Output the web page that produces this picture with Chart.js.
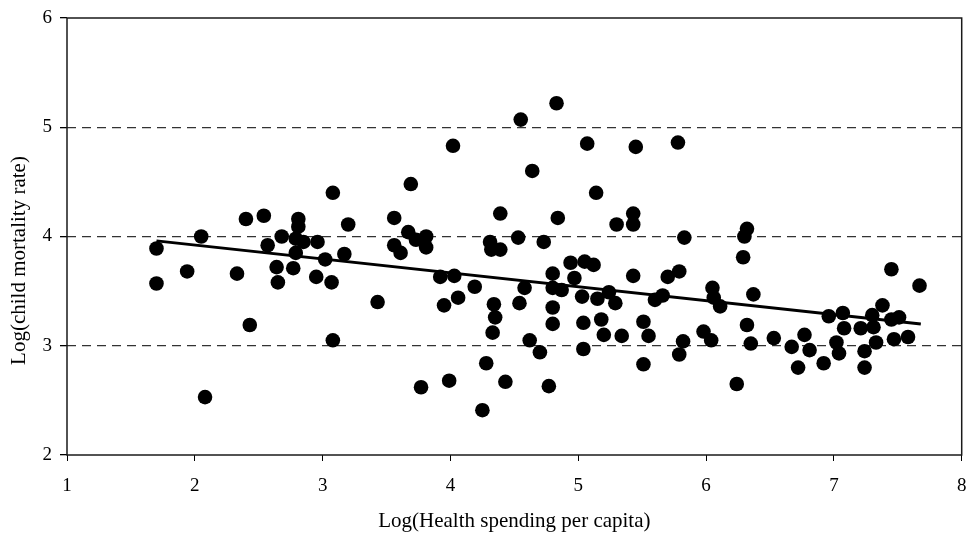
<!DOCTYPE html>
<html>
<head>
<meta charset="utf-8">
<script src="https://cdn.jsdelivr.net/npm/chart.js@4"></script>
<style>
  html, body { margin: 0; padding: 0; background: #fff; }
</style>
</head>
<body>
<canvas id="myChart" width="969" height="535"></canvas>
<script>
// log health spending per capita (x) and log child mortality rate (y)
const spendingLog = [
    1.70, 1.70, 1.94, 2.05, 2.08, 2.33, 2.43, 2.40, 2.54, 2.57,
    2.68, 2.79, 2.85, 2.81, 2.81, 2.96, 2.64, 2.77, 2.79, 2.65,
    2.95, 3.07, 3.02, 3.17, 3.08, 3.20, 3.08, 3.43,
    3.56, 3.69, 3.67, 3.73, 3.81, 3.81, 3.56, 3.61, 4.02, 4.55,
    4.83, 4.64, 5.07, 5.45, 5.78, 5.14, 4.39, 4.84, 5.30, 5.43,
    5.43, 4.31, 4.32, 4.39, 4.53, 4.73, 5.83, 4.94, 5.05, 5.12,
    4.80, 4.97, 5.43, 5.70, 5.79, 3.92, 4.03, 4.19, 4.58, 4.80,
    4.87, 3.95, 4.06, 4.34, 4.54, 4.80, 5.03, 5.15, 5.24, 5.29,
    5.60, 5.66, 4.35, 4.33, 4.80, 5.04, 5.18, 5.20, 5.34, 5.51,
    5.55, 4.62, 4.70, 5.04, 4.28, 3.99, 3.77, 4.43, 4.77, 4.25,
    5.51, 5.82, 5.79,
    6.32, 6.30, 6.29, 6.05, 6.06, 6.11, 6.37, 6.32, 5.98, 6.04,
    6.35, 6.53, 6.67, 6.77, 6.81, 6.72, 6.92, 7.02, 7.04, 6.96,
    7.07, 7.08, 7.21, 7.24, 7.24, 7.33, 7.30, 7.31, 7.38, 7.45,
    7.51, 7.47, 7.58, 7.45, 7.67, 6.24
];
const mortalityLog = [
    3.89, 3.57, 3.68, 4.00, 2.53, 3.66, 3.19, 4.16, 4.19, 3.92,
    4.00, 3.98, 3.95, 4.09, 4.16, 3.95, 3.72, 3.71, 3.85, 3.58,
    3.63, 3.58, 3.79, 3.84, 4.40, 4.11, 3.05, 3.40,
    4.17, 4.48, 4.04, 3.97, 4.00, 3.90, 3.92, 3.85, 4.83, 5.07,
    5.22, 4.60, 4.85, 4.82, 4.86, 4.40, 4.21, 4.17, 4.11, 4.21,
    4.11, 3.95, 3.88, 3.88, 3.99, 3.95, 3.99, 3.76, 3.77, 3.74,
    3.66, 3.62, 3.64, 3.63, 3.68, 3.63, 3.64, 3.54, 3.53, 3.53,
    3.51, 3.37, 3.44, 3.38, 3.39, 3.35, 3.45, 3.43, 3.49, 3.39,
    3.42, 3.46, 3.26, 3.12, 3.20, 3.21, 3.24, 3.10, 3.09, 3.22,
    3.09, 3.05, 2.94, 2.97, 2.84, 2.68, 2.62, 2.67, 2.63, 2.41,
    2.83, 3.04, 2.92,
    4.07, 4.00, 3.81, 3.53, 3.44, 3.36, 3.47, 3.19, 3.13, 3.05,
    3.02, 3.07, 2.99, 3.10, 2.96, 2.80, 2.84, 3.03, 2.93, 3.27,
    3.30, 3.16, 3.16, 2.95, 2.80, 3.03, 3.28, 3.17, 3.37, 3.24,
    3.26, 3.06, 3.08, 3.70, 3.55, 2.65
];
// fitted line end points
const trendX = [1.70, 7.68];
const trendY = [3.96, 3.20];

const xTicks = [1, 2, 3, 4, 5, 6, 7, 8];
const yTicks = [2, 3, 4, 5, 6];

const xTitle = 'Log(Health spending per capita)';
const yTitle = 'Log(child mortality rate)';

const serif = '"Liberation Serif", "Times New Roman", serif';

const points = spendingLog.map((x, i) => ({ x: x, y: mortalityLog[i] }));
const trend = trendX.map((x, i) => ({ x: x, y: trendY[i] }));

// box round the plot area, plus the y title (sits a bit below the middle in the original)
const plotBox = {
    id: 'plotBox',
    afterDraw(chart) {
        const { ctx, chartArea: a } = chart;
        ctx.save();
        ctx.strokeStyle = '#1a1a1a';
        ctx.lineWidth = 1.5;
        ctx.strokeRect(a.left, a.top, a.right - a.left, a.bottom - a.top);
        ctx.translate(19, (a.top + a.bottom) / 2 + 24);
        ctx.rotate(-Math.PI / 2);
        ctx.fillStyle = '#000';
        ctx.font = '21px ' + serif;
        ctx.textAlign = 'center';
        ctx.textBaseline = 'middle';
        ctx.fillText(yTitle, 0, 0);
        ctx.restore();
    }
};

const config = {
    type: 'scatter',
    data: {
        datasets: [{
            data: points,
            pointRadius: 7.3,
            pointHoverRadius: 7.3,
            backgroundColor: '#000',
            borderWidth: 0
        }, {
            type: 'line',
            data: trend,
            borderColor: '#000',
            borderWidth: 3,
            pointRadius: 0,
            fill: false
        }]
    },
    options: {
        responsive: false,
        animation: false,
        layout: {
            padding: { top: 18, right: 6, left: 0, bottom: 0 }
        },
        scales: {
            x: {
                type: 'linear',
                min: 1,
                max: 8,
                afterBuildTicks: (s) => { s.ticks = xTicks.map(v => ({ value: v })); },
                afterFit: (s) => { s.height = 80; s.paddingLeft = 0; s.paddingRight = 0; },
                ticks: {
                    color: '#000',
                    font: { family: serif, size: 19 },
                    padding: 14
                },
                grid: {
                    drawOnChartArea: false,
                    tickLength: 6,
                    color: '#000'
                },
                border: { display: false },
                title: {
                    display: true,
                    text: xTitle,
                    color: '#000',
                    font: { family: serif, size: 21 },
                    padding: { top: 0, bottom: 1 }
                }
            },
            y: {
                min: 2,
                max: 6,
                afterBuildTicks: (s) => { s.ticks = yTicks.map(v => ({ value: v })); },
                afterFit: (s) => { s.width = 67; s.paddingTop = 0; s.paddingBottom = 0; },
                ticks: {
                    color: '#000',
                    font: { family: serif, size: 19 },
                    padding: 8
                },
                grid: {
                    color: (c) => (c.tick && (c.tick.value === 2 || c.tick.value === 6)) ? 'rgba(0,0,0,0)' : '#333',
                    lineWidth: 1.3,
                    tickColor: '#000',
                    tickLength: 7
                },
                border: { display: false, dash: [9, 6] },
                title: { display: false }
            }
        },
        plugins: {
            legend: { display: false },
            tooltip: { enabled: false }
        }
    },
    plugins: [plotBox]
};

var myChart = new Chart(document.getElementById('myChart'), config);
</script>
</body>
</html>
